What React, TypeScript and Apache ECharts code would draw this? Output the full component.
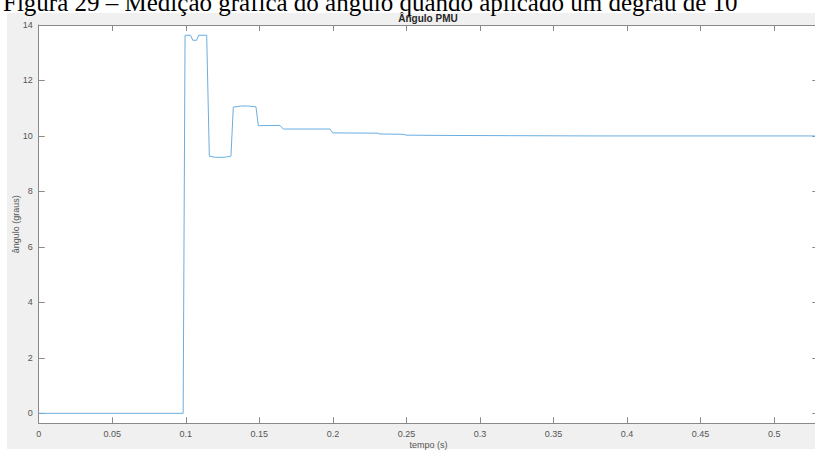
import React, { useEffect, useRef } from "react";
import * as echarts from "echarts";

const caption = "Figura 29 – Medição gráfica do ângulo quando aplicado um degrau de 10";
const chartTitle = "Ângulo PMU";
const xName = "tempo (s)";
const yName = "ângulo (graus)";

const xTicks = [0, 0.05, 0.1, 0.15, 0.2, 0.25, 0.3, 0.35, 0.4, 0.45, 0.5];
const yTicks = [0, 2, 4, 6, 8, 10, 12, 14];

const times = [
  0, 0.0982, 0.0995, 0.1033, 0.1047, 0.1074, 0.1087, 0.1142, 0.116, 0.12, 0.126, 0.1307,
  0.1323, 0.138, 0.142, 0.1477, 0.1493, 0.164, 0.1663, 0.198, 0.1999, 0.2307, 0.232,
  0.2477, 0.2497, 0.27, 0.32, 0.38, 0.53,
];
const angles = [
  0, 0, 13.63, 13.63, 13.45, 13.45, 13.63, 13.63, 9.27, 9.23, 9.23, 9.27,
  11.04, 11.08, 11.08, 11.05, 10.37, 10.38, 10.25, 10.25, 10.11, 10.1, 10.07,
  10.06, 10.03, 10.02, 10.01, 10.0, 10.0,
];

const X_MIN = 0;
const X_MAX = 0.53;
const Y_MIN = -0.36;
const Y_MAX = 14;

export default function App() {
  const ref = useRef<HTMLDivElement>(null);
  useEffect(() => {
    if (!ref.current) return;
    const chart = echarts.init(ref.current, null, { renderer: "svg" });
    const axisColor = "#8a8a8a";
    const labelColor = "#555555";
    const font = "Liberation Sans, Arial, sans-serif";
    const data = times.map((t, i) => [t, angles[i]]);
    const baseX = {
      type: "value" as const,
      min: X_MIN,
      max: X_MAX,
      axisLine: { show: true, onZero: false, lineStyle: { color: axisColor, width: 1 } },
      splitLine: { show: false },
    };
    const baseY = {
      type: "value" as const,
      min: Y_MIN,
      max: Y_MAX,
      axisLine: { show: true, onZero: false, lineStyle: { color: axisColor, width: 1 } },
      splitLine: { show: false },
    };
    chart.setOption({
      animation: false,
      backgroundColor: "#ffffff",
      graphic: [
        {
          type: "rect",
          z: -10,
          silent: true,
          shape: { x: 7, y: 13, width: 808, height: 436 },
          style: { fill: "#f0f0f0" },
        },
        {
          type: "text",
          z: 10,
          x: 3,
          y: 15,
          style: {
            text: caption,
            font: "25px 'Liberation Serif', 'Times New Roman', serif",
            fill: "#000000",
            verticalAlign: "bottom",
          },
        },
        {
          type: "text",
          z: 11,
          x: 428,
          y: 18,
          style: {
            text: chartTitle,
            font: "bold 10px " + font,
            fill: "#262626",
            align: "center",
            verticalAlign: "middle",
          },
        },
      ],
      grid: {
        show: true,
        backgroundColor: "#ffffff",
        borderWidth: 0,
        left: 38.7,
        top: 25,
        bottom: 27.7,
        right: -3.3,
        containLabel: false,
        outerBoundsMode: "none",
      },
      xAxis: [
        {
          ...baseX,
          position: "bottom",
          name: xName,
          nameLocation: "middle",
          nameGap: 17,
          nameMoveOverlap: false,
          nameTextStyle: { color: labelColor, fontSize: 9, fontFamily: font },
          axisTick: { show: true, inside: true, length: 6, customValues: xTicks, lineStyle: { color: axisColor } },
          axisLabel: { show: true, customValues: xTicks, margin: 6, color: labelColor, fontSize: 9, fontFamily: font },
        },
        {
          ...baseX,
          position: "top",
          axisTick: { show: true, inside: true, length: 6, customValues: xTicks, lineStyle: { color: axisColor } },
          axisLabel: { show: false },
        },
      ],
      yAxis: [
        {
          ...baseY,
          position: "left",
          name: yName,
          nameLocation: "middle",
          nameGap: 18,
          nameMoveOverlap: false,
          nameRotate: 90,
          nameTextStyle: { color: labelColor, fontSize: 9, fontFamily: font },
          axisTick: { show: true, inside: true, length: 6, customValues: yTicks, lineStyle: { color: axisColor } },
          axisLabel: { show: true, customValues: yTicks, margin: 6, color: labelColor, fontSize: 9, fontFamily: font },
        },
        {
          ...baseY,
          position: "right",
          axisTick: { show: true, inside: true, length: 6, customValues: yTicks, lineStyle: { color: axisColor } },
          axisLabel: { show: false },
        },
      ],
      series: [
        {
          type: "line",
          data,
          xAxisIndex: 0,
          yAxisIndex: 0,
          showSymbol: false,
          symbol: "none",
          lineStyle: { color: "#6aaee0", width: 1 },
          clip: true,
        },
      ],
    });
    return () => chart.dispose();
  }, []);
  return (
    <div
      ref={ref}
      style={{ position: "absolute", left: 0, top: 0, width: 815, height: 451 }}
    />
  );
}
